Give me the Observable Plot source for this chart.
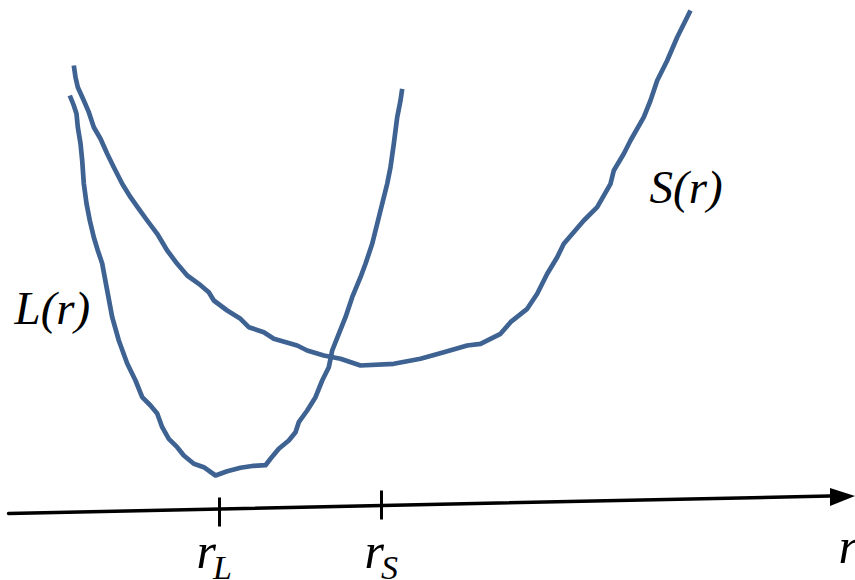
<!DOCTYPE html>
<html><head><meta charset="utf-8">
<script src="https://cdn.jsdelivr.net/npm/d3@7"></script>
<script src="https://cdn.jsdelivr.net/npm/@observablehq/plot@0.6"></script>
<style>body{margin:0}</style>
</head><body><div id="chart"></div>
<script>
// L(r) curve: [r, value]
const lCurve = [
 [69.3,485],[73.3,475],[76,466.7],[77.3,453.3],[80,437],[81.7,420],[83.3,397],[86,377],
 [89.3,360],[93.3,343.3],[97.3,330],[101.7,317],[103.3,308.3],[106.7,290],[111.7,263.3],
 [118.3,240],[126.7,217],[135,200],[141.7,183.3],[150,175],[156.7,167],[161.7,153.3],
 [168.3,141.7],[176.7,133.3],[183.3,125],[193.3,116.7],[203.3,113.3],[215,105],
 [226.7,109.3],[240,112.7],[253.3,114.7],[265,115.3],[270,121.7],[278.3,131.7],[288.3,140],
 [295,148.3],[298.3,158.3],[306.7,170],[315,183.3],[321.7,200],[328.3,213.3],[331.7,230],
 [338.3,246.7],[345,263.3],[351.7,283.3],[360,303.3],[365,316.7],[371.7,336.7],[376.7,356.7],
 [381.7,376.7],[386.7,396.7],[390,413.3],[393.3,436.7],[396.7,463.3],[400,480],[401.7,491.7]
];
// S(r) curve: [r, value]
const sCurve = [
 [73.3,515],[75,503.3],[77.3,493.3],[83.3,480],[88.3,468.3],[93.3,453.3],[100,441.7],
 [106.7,426.7],[113.3,413.3],[121.7,396.7],[130,383.3],[138.3,371.7],[146.7,360],[156.7,346.7],
 [166.7,330],[176.7,316.7],[186.7,305],[198.3,296.7],[208.3,288.3],[213.3,280],[226.7,270],
 [240,261.7],[248.3,253.3],[263.3,248.3],[273.3,241.7],[296.7,235],[306.7,230],[323.3,225],
 [340,221.7],[360,215],[393.3,216.7],[420,221.7],[443.3,228.3],[466.7,235],[480,236.7],
 [500,246.7],[510,258.3],[526.7,271.7],[536.7,286.7],[546.7,306.7],[556.7,323.3],[563.3,336.7],
 [583.3,360],[596.7,373.3],[610,396.7],[613.3,410],[623.3,426.7],[630,440],[643.3,463.3],
 [650,480],[656.7,500],[666.7,520],[676.7,543.3],[690,570]
];
// r axis (slightly tilted hand-drawn arrow)
const axisR = [8, 840];
const axisV = [67, 84.7];
const headR = [830, 855];
const headTop = [92, 84];
const headBottom = [74, 84];
// tick marks at r_L and r_S
const tickR = [219, 381];
const tickV1 = [54, 61];
const tickV2 = [83, 90];
const tickMain = ["r", "r"];
const tickSub = ["L", "S"];
const tickLabelR = [196, 364];
const tickLabelV = [13, 13];
// curve labels
const curveLabels = ["L(r)", "S(r)"];
const curveLabelR = [14, 649];
const curveLabelV = [257, 378];
// axis label
const axisLabel = ["r"];
const axisLabelR = [838];
const axisLabelV = [18];

const blue = "#3e6291";
const serif = "Liberation Serif";

const chart = Plot.plot({
  width: 855, height: 580, margin: 0,
  x: {domain: [0, 855], axis: null},
  y: {domain: [0, 580], axis: null},
  marks: [
    Plot.line(lCurve, {x: d => d[0], y: d => d[1], stroke: blue, strokeWidth: 4.7, strokeLinejoin: "round", strokeLinecap: "butt"}),
    Plot.line(sCurve, {x: d => d[0], y: d => d[1], stroke: blue, strokeWidth: 4.7, strokeLinejoin: "round", strokeLinecap: "butt"}),
    Plot.line(axisR.map((r, i) => [r, axisV[i]]), {x: d => d[0], y: d => d[1], stroke: "#000", strokeWidth: 3.5}),
    Plot.areaY(headR.map((r, i) => [r, headTop[i], headBottom[i]]), {x: d => d[0], y1: d => d[1], y2: d => d[2], fill: "#000"}),
    Plot.link(tickR, {x1: d => d, x2: d => d, y1: (d, i) => tickV1[i], y2: (d, i) => tickV2[i], stroke: "#000", strokeWidth: 3}),
    Plot.text(curveLabels, {x: (d, i) => curveLabelR[i], y: (d, i) => curveLabelV[i], text: d => d, fontSize: 47, fontStyle: "italic", fontFamily: serif, textAnchor: "start", lineAnchor: "bottom"}),
    Plot.text(tickMain, {x: (d, i) => tickLabelR[i], y: (d, i) => tickLabelV[i], text: d => d, fontSize: 50, fontStyle: "italic", fontFamily: serif, textAnchor: "start", lineAnchor: "bottom"}),
    Plot.text(tickSub, {x: (d, i) => tickLabelR[i] + 16.5, y: (d, i) => tickLabelV[i] - 11, text: d => d, fontSize: 34, fontStyle: "italic", fontFamily: serif, textAnchor: "start", lineAnchor: "bottom"}),
    Plot.text(axisLabel, {x: (d, i) => axisLabelR[i], y: (d, i) => axisLabelV[i], text: d => d, fontSize: 50, fontStyle: "italic", fontFamily: serif, textAnchor: "start", lineAnchor: "bottom"})
  ]
});
document.getElementById("chart").appendChild(chart);
</script>
</body></html>
